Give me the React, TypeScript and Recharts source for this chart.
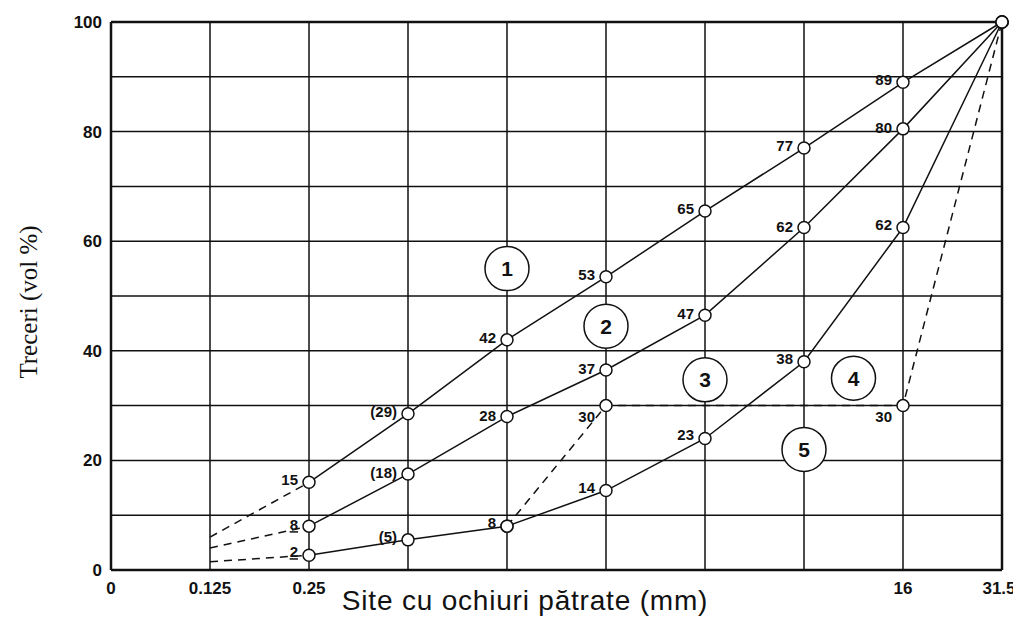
import React from "react";
import {
  LineChart,
  Line,
  XAxis,
  YAxis,
  CartesianGrid,
  ReferenceDot,
  ReferenceLine,
  LabelList,
} from "recharts";

const SIEVES = ["0", "0.125", "0.25", "0.5", "1", "2", "4", "8", "16", "31.5"];
const SHOWN_SIEVES = ["0", "0.125", "0.25", "16", "31.5"];
const Y_TICKS = [0, 10, 20, 30, 40, 50, 60, 70, 80, 90, 100];

const CURVE_1 = [null, null, 16, 28.5, 42, 53.5, 65.5, 77, 89, 100];
const CURVE_2 = [null, null, 8, 17.5, 28, 36.5, 46.5, 62.5, 80.5, 100];
const CURVE_3 = [null, null, 2.7, 5.5, 8, 14.5, 24, 38, 62.5, 100];
const CURVE_4 = [null, null, null, null, 8, 30, null, null, 30, 100];

const EXT_1 = [null, 6, 16, null, null, null, null, null, null, null];
const EXT_2 = [null, 4, 8, null, null, null, null, null, null, null];
const EXT_3 = [null, 1.5, 2.7, null, null, null, null, null, null, null];

const LABELS_1 = ["", "", "15", "(29)", "42", "53", "65", "77", "89", ""];
const LABELS_2 = ["", "", "8", "(18)", "28", "37", "47", "62", "80", ""];
const LABELS_3 = ["", "", "2", "(5)", "8", "14", "23", "38", "62", ""];
const LABELS_4 = ["", "", "", "", "", "30", "", "", "30", ""];

const ZONES = ["1", "2", "3", "4", "5"];
const ZONE_X = [4, 5, 6, 7.5, 7];
const ZONE_Y = [55, 44.5, 34.7, 35, 22];

const data = SIEVES.map((s, i) => ({
  i,
  c1: CURVE_1[i],
  c2: CURVE_2[i],
  c3: CURVE_3[i],
  c4: CURVE_4[i],
  e1: EXT_1[i],
  e2: EXT_2[i],
  e3: EXT_3[i],
}));

const INK = "#111";
const FONT = "'Liberation Sans', Arial, sans-serif";

function pointLabel(labels: string[], dy: number, underline = false) {
  return (props: any) => {
    const { x, y, index } = props;
    const txt = labels[index];
    if (!txt || x == null || y == null) return null;
    return (
      <text
        x={x - 11}
        y={y + 5 + dy}
        textAnchor="end"
        fontFamily={FONT}
        fontWeight="bold"
        fontSize={15}
        fill={INK}
        textDecoration={underline && index === 2 ? "underline" : undefined}
      >
        {txt}
      </text>
    );
  };
}

// x tick: only some sieve sizes are printed, last one nudged so it stays on the page
function SieveTick(props: any) {
  const { x, y, payload } = props;
  const lbl = SIEVES[payload.value];
  if (!SHOWN_SIEVES.includes(lbl)) return null;
  const last = payload.value === SIEVES.length - 1;
  return (
    <text
      x={last ? x - 3 : x}
      y={y + 16}
      textAnchor="middle"
      fill={INK}
      fontSize={17}
      fontWeight="bold"
      fontFamily={FONT}
    >
      {lbl}
    </text>
  );
}

const dot = { r: 6, fill: "#fff", stroke: INK, strokeWidth: 1.5, strokeDasharray: "none" };

export default function App() {
  return (
    <div
      style={{
        position: "relative",
        width: 1021,
        height: 619,
        margin: "-8px 0 0 -8px",
        background: "#fff",
        fontFamily: FONT,
      }}
    >
      <LineChart
        width={1021}
        height={619}
        data={data}
        margin={{ top: 22, right: 19, bottom: 19, left: 0 }}
      >
        <CartesianGrid stroke={INK} strokeWidth={1.5} />
        <XAxis
          dataKey="i"
          type="number"
          domain={[0, 9]}
          ticks={SIEVES.map((_, i) => i)}
          height={30}
          tickLine={false}
          axisLine={{ stroke: INK, strokeWidth: 2.5 }}
          tick={<SieveTick />}
        />
        <YAxis
          type="number"
          domain={[0, 100]}
          ticks={Y_TICKS}
          tickFormatter={(v: number) => (v % 20 === 0 ? String(v) : "")}
          width={111}
          tickLine={false}
          axisLine={{ stroke: INK, strokeWidth: 2.5 }}
          tick={{ fill: INK, fontSize: 17, fontWeight: "bold", fontFamily: FONT }}
          tickMargin={3}
        />
        <ReferenceLine x={9} stroke={INK} strokeWidth={2.5} />
        <ReferenceLine y={100} stroke={INK} strokeWidth={2.5} />

        <Line dataKey="e1" stroke={INK} strokeWidth={1.5} strokeDasharray="8 6" dot={false} isAnimationActive={false} />
        <Line dataKey="e2" stroke={INK} strokeWidth={1.5} strokeDasharray="8 6" dot={false} isAnimationActive={false} />
        <Line dataKey="e3" stroke={INK} strokeWidth={1.5} strokeDasharray="8 6" dot={false} isAnimationActive={false} />

        <Line dataKey="c4" stroke={INK} strokeWidth={1.5} strokeDasharray="8 6" connectNulls dot={dot} isAnimationActive={false}>
          <LabelList dataKey="c4" content={pointLabel(LABELS_4, 11)} />
        </Line>
        <Line dataKey="c1" stroke={INK} strokeWidth={1.5} dot={dot} isAnimationActive={false}>
          <LabelList dataKey="c1" content={pointLabel(LABELS_1, -2)} />
        </Line>
        <Line dataKey="c2" stroke={INK} strokeWidth={1.5} dot={dot} isAnimationActive={false}>
          <LabelList dataKey="c2" content={pointLabel(LABELS_2, -1, true)} />
        </Line>
        <Line dataKey="c3" stroke={INK} strokeWidth={1.5} dot={dot} isAnimationActive={false}>
          <LabelList dataKey="c3" content={pointLabel(LABELS_3, -3, true)} />
        </Line>

        {ZONES.map((z, k) => (
          <ReferenceDot
            key={z}
            x={ZONE_X[k]}
            y={ZONE_Y[k]}
            r={22}
            fill="#fff"
            stroke={INK}
            strokeWidth={1.5}
            ifOverflow="visible"
            label={{
              value: z,
              position: "center",
              fill: INK,
              fontSize: 21,
              fontWeight: "bold",
              fontFamily: FONT,
            }}
          />
        ))}
      </LineChart>

      <div
        style={{
          position: "absolute",
          left: 525,
          top: 601,
          transform: "translate(-50%, -50%)",
          fontSize: 28,
          letterSpacing: 0.8,
          color: INK,
          whiteSpace: "nowrap",
          fontFamily: FONT,
        }}
      >
        Site cu ochiuri pătrate (mm)
      </div>
      <div
        style={{
          position: "absolute",
          left: 29,
          top: 302,
          transform: "translate(-50%, -50%) rotate(-90deg)",
          fontSize: 25,
          color: INK,
          whiteSpace: "nowrap",
          fontFamily: "'Liberation Serif', 'Times New Roman', serif",
        }}
      >
        Treceri (vol %)
      </div>
    </div>
  );
}
